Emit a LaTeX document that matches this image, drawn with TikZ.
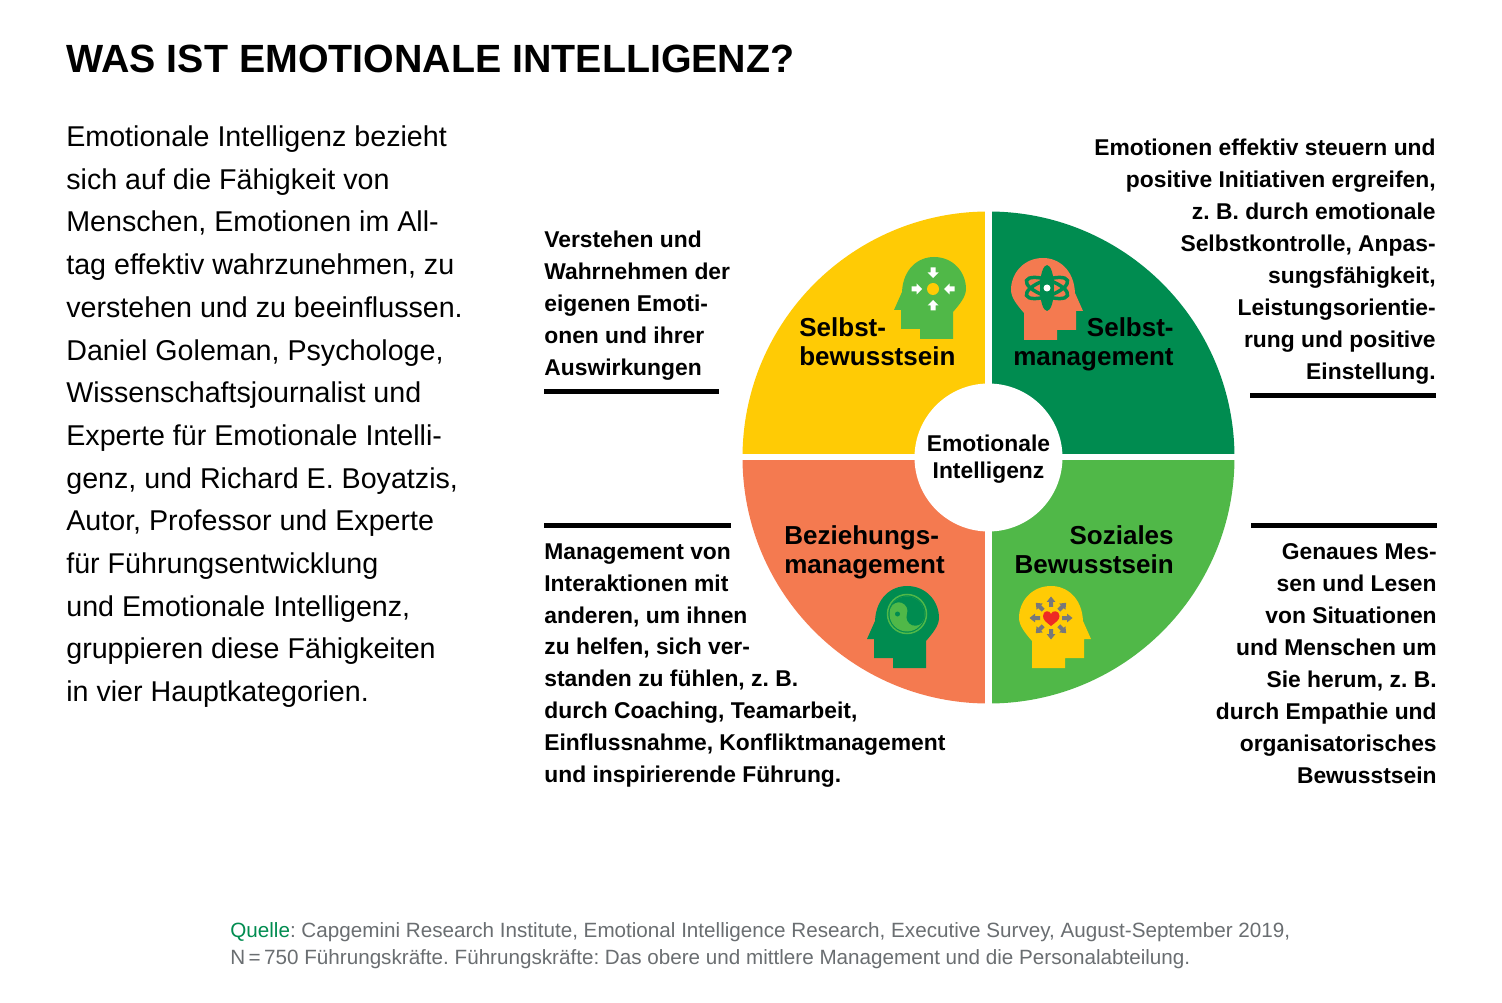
\documentclass[tikz,border=0pt]{standalone}
\usepackage{fontspec}
\setmainfont{Liberation Sans}
\usetikzlibrary{positioning, calc}

\definecolor{yellowsec}{HTML}{FFCB05}
\definecolor{darksec}{HTML}{008C50}
\definecolor{orangesec}{HTML}{F47A50}
\definecolor{greensec}{HTML}{50B848}
\definecolor{sourcegray}{HTML}{6A6E71}
\definecolor{arrowgray}{HTML}{77787B}
\definecolor{heartred}{HTML}{EE2A24}

\tikzset{
    titletext/.style={anchor=north west, inner sep=0pt, font=\bfseries\fontsize{22.4}{29}\selectfont},
    bodytext/.style={anchor=north west, inner sep=0pt, align=left, font=\fontsize{16.3}{24.3}\selectfont},
    notetext/.style={inner sep=0pt, font=\bfseries\fontsize{13}{18.2}\selectfont},
    sectortext/.style={inner sep=0pt, font=\bfseries\fontsize{14.8}{16.8}\selectfont},
    sourcetext/.style={anchor=north west, inner sep=0pt, align=left, text=sourcegray, font=\fontsize{11.75}{15.4}\selectfont},
    rulebar/.style={line width=0.1cm},
    headicon/.pic={
        \fill[pic actions] (-39,-21) -- (-31,-3) .. controls (-30,20) and (-15,32) .. (1,32)
            .. controls (20,32) and (33,17) .. (33,0) .. controls (33,-8) and (26,-16) .. (20,-23)
            -- (20,-50) -- (-13,-50) -- (-13,-40) -- (-32,-40) -- (-32,-21) -- cycle;
    },
    arrowicon/.pic={
        \fill[pic actions] (0,-2.5) -- (5,-2.5) -- (5,-5.5) -- (10.5,0) -- (5,5.5) -- (5,2.5) -- (0,2.5) -- cycle;
    },
}

\begin{document}
\frenchspacing
\begin{tikzpicture}[x=0.02cm, y=0.02cm]
    \useasboundingbox (0,0) rectangle (1502,1002);
    \fill[white] (0,0) rectangle (1502,1002);

    \node[titletext] (title) at (66,957) {WAS IST EMOTIONALE INTELLIGENZ?};
    \node[bodytext] (body) at (66,876.5) {Emotionale Intelligenz bezieht\\
        sich auf die Fähigkeit von\\
        Menschen, Emotionen im All-\\
        tag effektiv wahrzunehmen, zu\\
        verstehen und zu beeinflussen.\\
        Daniel Goleman, Psychologe,\\
        Wissenschaftsjournalist und\\
        Experte für Emotionale Intelli-\\
        genz, und Richard E. Boyatzis,\\
        Autor, Professor und Experte\\
        für Führungsentwicklung\\
        und Emotionale Intelligenz,\\
        gruppieren diese Fähigkeiten\\
        in vier Hauptkategorien.};

    % the four sectors
    \coordinate (mid) at (988.5,544.5);
    \fill[yellowsec] (mid) -- +(90:246) arc (90:180:246) -- cycle;
    \fill[darksec] (mid) -- +(0:246) arc (0:90:246) -- cycle;
    \fill[orangesec] (mid) -- +(180:246) arc (180:270:246) -- cycle;
    \fill[greensec] (mid) -- +(270:246) arc (270:360:246) -- cycle;
    \draw[white, line width=0.13cm] (988.5,295) -- (988.5,794);
    \draw[white, line width=0.12cm] (739,544.5) -- (1238,544.5);
    \node[circle, fill=white, minimum size=2.96cm, inner sep=0pt] (centre) at (mid) {};
    \node[align=center, inner sep=0pt, font=\bfseries\fontsize{13}{15.4}\selectfont]
        (centretext) at ($(mid)+(0,-2)$) {Emotionale\\Intelligenz};

    % icons
    \pic[fill=greensec] (headself) at (933,713) {headicon};
    \fill[yellowsec] (933,713) circle (6);
    \foreach \a in {0,90,180,270} {
        \pic[fill=white, rotate=\a+180] at ($(933,713)+(\a:21.5)$) {arrowicon};
    }

    \pic[fill=orangesec, xscale=-1] (headmanage) at (1044,712) {headicon};
    \fill[darksec] (1047,714) ellipse (7 and 23);
    \draw[darksec, line width=0.07cm, rotate around={20:(1047,714)}] (1047,714) ellipse (21.8 and 8);
    \draw[darksec, line width=0.07cm, rotate around={-20:(1047,714)}] (1047,714) ellipse (21.8 and 8);
    \fill[white] (1047,714) circle (3.5);

    \pic[fill=darksec] (headrelation) at (906,384) {headicon};
    \draw[greensec, line width=0.03cm] (907,388) circle (19.5);
    \fill[greensec] (907,388) circle (17.5);
    \fill[darksec] (907,388) ++(160:17.5) arc (160:-20:17.5) arc (-20:-200:8.75) arc (-20:160:8.75) -- cycle;
    \fill[darksec] (897.5,388) circle (2.5);

    \pic[fill=yellowsec, xscale=-1] (headsocial) at (1052,384) {headicon};
    \foreach \a in {0,45,...,315} {
        \pic[fill=arrowgray, rotate=\a, yscale=0.8] at ($(1051,384)+(\a:11)$) {arrowicon};
    }
    \fill[heartred] (1051,376) .. controls (1046,380) and (1043,382) .. (1043,386)
        .. controls (1043,392) and (1050,392) .. (1051,388)
        .. controls (1052,392) and (1059.5,392) .. (1059.5,386)
        .. controls (1059.5,382) and (1056,380) .. (1051,376) -- cycle;

    % sector labels
    \node[sectortext, anchor=north west, align=left] (lblself) at (799,685) {Selbst-\\bewusstsein};
    \node[sectortext, anchor=north east, align=right] (lblmanage) at (1174,685) {Selbst-\\management};
    \node[sectortext, anchor=north west, align=left] (lblrelation) at (784,477) {Beziehungs-\\management};
    \node[sectortext, anchor=north east, align=right] (lblsocial) at (1174,477) {Soziales\\Bewusstsein};

    % notes beside the circle
    \node[notetext, anchor=north west, align=left] (noteself) at (544,771) {Verstehen und\\
        Wahrnehmen der\\
        eigenen Emoti-\\
        onen und ihrer\\
        Auswirkungen};
    \draw[rulebar] (544,610) -- (719,610);

    \node[notetext, anchor=north east, align=right] (notemanage) at (1436,863) {Emotionen effektiv steuern und\\
        positive Initiativen ergreifen,\\
        z. B. durch emotionale\\
        Selbstkontrolle, Anpas-\\
        sungsfähigkeit,\\
        Leistungsorientie-\\
        rung und positive\\
        Einstellung.};
    \draw[rulebar] (1250,606) -- (1436,606);

    \draw[rulebar] (544,476) -- (731,476);
    \node[notetext, anchor=north west, align=left] (noterelation) at (544,459) {Management von\\
        Interaktionen mit\\
        anderen, um ihnen\\
        zu helfen, sich ver-\\
        standen zu fühlen, z. B.\\
        durch Coaching, Teamarbeit,\\
        Einflussnahme, Konfliktmanagement\\
        und inspirierende Führung.};

    \draw[rulebar] (1251,476) -- (1437,476);
    \node[notetext, anchor=north east, align=right] (notesocial) at (1437,459) {Genaues Mes-\\
        sen und Lesen\\
        von Situationen\\
        und Menschen um\\
        Sie herum, z. B.\\
        durch Empathie und\\
        organisatorisches\\
        Bewusstsein};

    \node[sourcetext] (source) at (230,79.5) {\textcolor{darksec}{Quelle}: Capgemini Research Institute, Emotional Intelligence Research, Executive Survey, August-September 2019,\\
        N\,=\,750 Führungskräfte. Führungskräfte: Das obere und mittlere Management und die Personalabteilung.};
\end{tikzpicture}
\end{document}
